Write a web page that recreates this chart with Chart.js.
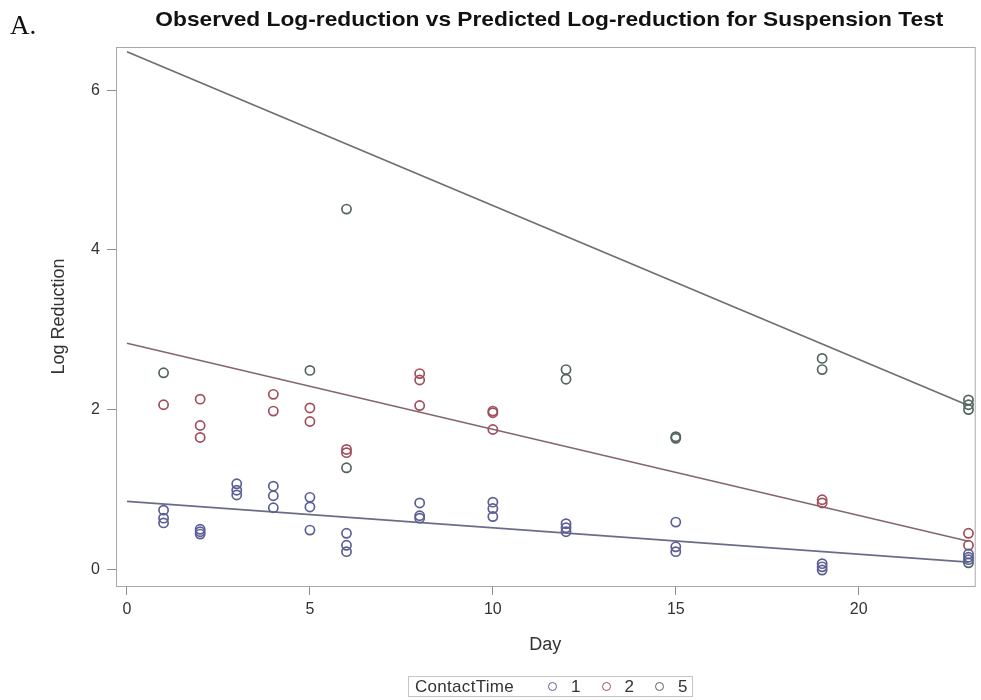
<!DOCTYPE html>
<html>
<head>
<meta charset="utf-8">
<script src="https://cdn.jsdelivr.net/npm/chart.js@4/dist/chart.umd.min.js"></script>
<style>
  body { margin: 0; background: #fff; }
  #wrap { position: relative; width: 981px; height: 700px; }
  #panel { position: absolute; left: 10px; top: 10px; font: 27px "Liberation Serif", serif; color: #111; }
  #legend { position: absolute; left: 408px; top: 676px; width: 285px; height: 21px;
            border: 1px solid #c4c4c4; font: 17px "Liberation Sans", Arial, sans-serif; color: #333;
            display: flex; align-items: center; box-sizing: border-box; padding-left: 6px; }
  #legend .head { margin-right: 22px; letter-spacing: 0.3px; }
  #legend .item { display: flex; align-items: center; margin-left: 12px; margin-right: 9px; }
  #legend .dot { width: 7px; height: 7px; border-radius: 50%; border: 1.5px solid; margin-right: 14px; }
</style>
</head>
<body>
<div id="wrap">
  <div id="panel">A.</div>
  <canvas id="chart" width="981" height="700"></canvas>
  <div id="legend"></div>
</div>
<script>
  // observed log reductions, by contact time
  const days1   = [1, 1, 1, 2, 2, 2, 3, 3, 3, 4, 4, 4, 5, 5, 5, 6, 6, 6, 8, 8, 8, 10, 10, 10, 12, 12, 12, 15, 15, 15, 19, 19, 19, 23, 23, 23];
  const logRed1 = [0.74, 0.64, 0.58, 0.50, 0.47, 0.44, 1.07, 0.99, 0.93, 1.04, 0.92, 0.77, 0.90, 0.78, 0.49, 0.45, 0.30, 0.22,
                   0.83, 0.67, 0.64, 0.84, 0.76, 0.66, 0.57, 0.52, 0.47, 0.59, 0.28, 0.22, 0.07, 0.03, -0.01, 0.19, 0.15, 0.12];
  const days2   = [1, 2, 2, 2, 4, 4, 5, 5, 6, 6, 8, 8, 8, 10, 10, 10, 19, 19, 23, 23];
  const logRed2 = [2.06, 2.13, 1.80, 1.65, 2.19, 1.98, 2.02, 1.85, 1.50, 1.46, 2.45, 2.37, 2.05, 1.98, 1.96, 1.75, 0.87, 0.83, 0.45, 0.30];
  const days5   = [1, 5, 6, 6, 12, 12, 15, 15, 19, 19, 23, 23, 23, 23];
  const logRed5 = [2.46, 2.49, 4.51, 1.27, 2.50, 2.38, 1.66, 1.64, 2.64, 2.50, 2.12, 2.06, 2.00, 0.08];

  // predicted log reduction (fitted lines)
  const fitDays = [0, 23];
  const fit1 = [0.85, 0.09];
  const fit2 = [2.83, 0.35];
  const fit5 = [6.48, 2.05];

  const contactTimes = ['1', '2', '5'];
  const pointColors = ['#5c5f94', '#a04f5d', '#52665f'];
  const lineColors = ['#6a6d88', '#84666c', '#69716d'];
  const xTicks = [0, 5, 10, 15, 20];
  const yTicks = [0, 2, 4, 6];
  const titleText = 'Observed Log-reduction vs Predicted Log-reduction for Suspension Test';

  const pairs = (xs, ys) => xs.map((x, i) => ({ x: x, y: ys[i] }));
  const observed = [[days1, logRed1], [days2, logRed2], [days5, logRed5]];
  const fits = [fit1, fit2, fit5];

  const datasets = [];
  observed.forEach(([xs, ys], i) => {
    datasets.push({
      type: 'scatter',
      label: contactTimes[i],
      data: pairs(xs, ys),
      borderColor: pointColors[i],
      backgroundColor: 'rgba(0,0,0,0)',
      pointRadius: 4.6,
      pointBorderWidth: 1.7,
      pointHoverRadius: 4.6
    });
  });
  fits.forEach((ys, i) => {
    datasets.push({
      type: 'line',
      label: 'fit ' + contactTimes[i],
      data: pairs(fitDays, ys),
      borderColor: lineColors[i],
      borderWidth: 1.7,
      pointRadius: 0,
      fill: false
    });
  });

  // title over the plot (bold, stretched to the frame width) and a full frame
  const frame = {
    id: 'frame',
    beforeDatasetsDraw(chart) {
      const { ctx, chartArea: a } = chart;
      ctx.save();
      ctx.strokeStyle = '#a8a8a8';
      ctx.lineWidth = 1;
      ctx.strokeRect(a.left + 0.5, a.top + 0.5, a.right - a.left, a.bottom - a.top);
      ctx.font = 'bold 21px "Liberation Sans", Arial, sans-serif';
      const w = ctx.measureText(titleText).width;
      const cx = (a.left + a.right) / 2 + 4;
      ctx.translate(cx, 20);
      ctx.scale(788 / w, 1);
      ctx.fillStyle = '#111';
      ctx.textAlign = 'center';
      ctx.textBaseline = 'middle';
      ctx.fillText(titleText, 0, 0);
      ctx.restore();
    }
  };

  const tickFont = { family: '"Liberation Sans", Arial, sans-serif', size: 16 };
  const titleFont = { family: '"Liberation Sans", Arial, sans-serif', size: 18 };

  new Chart(document.getElementById('chart'), {
    type: 'scatter',
    data: { datasets: datasets },
    plugins: [frame],
    options: {
      responsive: false,
      animation: false,
      events: [],
      layout: { padding: { left: 44, right: 6, top: 47, bottom: 40 } },
      plugins: { legend: { display: false }, tooltip: { enabled: false } },
      scales: {
        x: {
          type: 'linear',
          min: -0.3,
          max: 23.17,
          afterBuildTicks: s => { s.ticks = xTicks.map(v => ({ value: v })); },
          afterFit: s => { s.height = 74; },
          border: { display: false },
          grid: { drawOnChartArea: false, drawTicks: true, tickLength: 9, color: '#8c8c8c' },
          ticks: { font: tickFont, color: '#333', padding: 5 },
          title: { display: true, text: 'Day', font: titleFont, color: '#333' }
        },
        y: {
          type: 'linear',
          min: -0.21,
          max: 6.54,
          afterBuildTicks: s => { s.ticks = yTicks.map(v => ({ value: v })); },
          afterFit: s => { s.width = 72; },
          border: { display: false },
          grid: { drawOnChartArea: false, drawTicks: true, tickLength: 9, color: '#8c8c8c' },
          ticks: { font: tickFont, color: '#333', padding: 7 },
          title: { display: true, text: 'Log Reduction', font: titleFont, color: '#333' }
        }
      }
    }
  });

  // legend strip under the chart
  const legend = document.getElementById('legend');
  const head = document.createElement('span');
  head.className = 'head';
  head.textContent = 'ContactTime';
  legend.appendChild(head);
  contactTimes.forEach((c, i) => {
    const item = document.createElement('span');
    item.className = 'item';
    const dot = document.createElement('span');
    dot.className = 'dot';
    dot.style.borderColor = pointColors[i];
    item.appendChild(dot);
    item.appendChild(document.createTextNode(c));
    legend.appendChild(item);
  });
</script>
</body>
</html>
